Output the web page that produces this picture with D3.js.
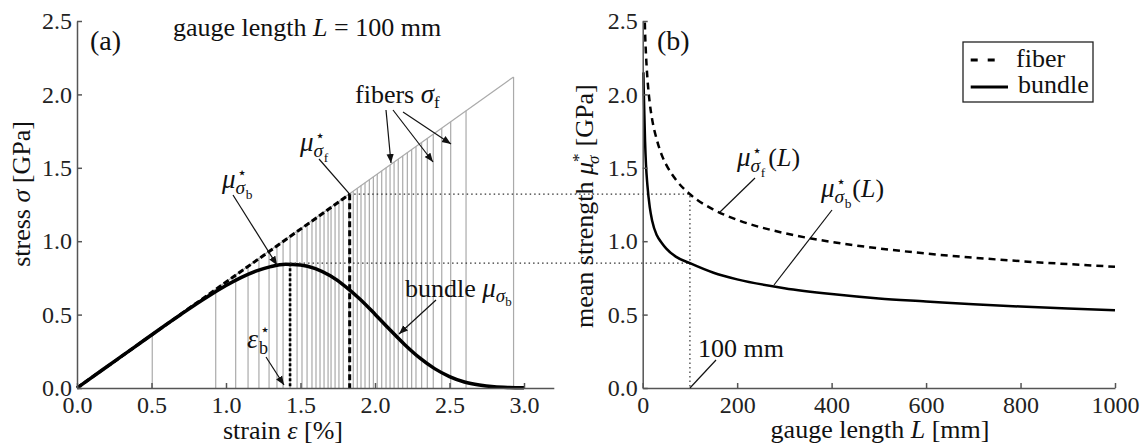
<!DOCTYPE html>
<html>
<head>
<meta charset="utf-8">
<script src="https://cdn.jsdelivr.net/npm/d3@7"></script>
<style>
  body { margin: 0; background: #fff; }
  svg { display: block; }
  svg text { font-family: "Liberation Serif", "Times New Roman", serif; fill: #111; }
  .axis path, .axis line { stroke: #555; stroke-width: 1.5; }
  .fiber { stroke: #aaa; stroke-width: 1.2; }
  .lead { stroke: #111; stroke-width: 1.2; fill: none; }
  .dotted { stroke: #333; stroke-width: 1.2; stroke-dasharray: 1.5,3; fill: none; }
</style>
</head>
<body>
<svg id="chart" width="1146" height="445"></svg>
<script>
// ticks
var strainTicks = [0, 0.5, 1.0, 1.5, 2.0, 2.5, 3.0];
var stressTicks = [0, 0.5, 1.0, 1.5, 2.0, 2.5];
var lengthTicks = [0, 200, 400, 600, 800, 1000];

// panel (a): breaking strains of single fibers [%], slope of the gray envelope [GPa/%]
var fiberStrain = [0.505, 0.931, 1.065, 1.148, 1.221, 1.289, 1.342, 1.383, 1.43, 1.477,
  1.510, 1.544, 1.577, 1.604, 1.631, 1.658, 1.685, 1.705, 1.732, 1.758, 1.787, 1.826,
  1.854, 1.881, 1.906, 1.933, 1.962, 1.989, 2.015, 2.045, 2.074, 2.101, 2.128, 2.156,
  2.186, 2.217, 2.246, 2.275, 2.313, 2.351, 2.391, 2.448, 2.508, 2.611, 2.930];
var fiberModulus = 0.7233;

// panel (a): mean bundle response
var bundleStrain = [0, 0.1, 0.2, 0.3, 0.4, 0.5, 0.6, 0.7, 0.8, 0.9, 1.0, 1.1, 1.2, 1.3,
  1.4, 1.5, 1.6, 1.7, 1.8, 1.9, 2.0, 2.1, 2.2, 2.3, 2.4, 2.5, 2.6, 2.7, 2.8, 2.9, 3.0];
var bundleStress = [0, 0.072, 0.145, 0.217, 0.289, 0.361, 0.433, 0.503, 0.572, 0.637,
  0.698, 0.752, 0.796, 0.827, 0.843, 0.838, 0.813, 0.764, 0.693, 0.605, 0.503, 0.397,
  0.295, 0.205, 0.132, 0.078, 0.041, 0.020, 0.008, 0.003, 0.001];

var peakStrain = 1.43, peakStress = 0.85;     // bundle maximum
var fiberMeanStrain = 1.83, fiberMeanStress = 1.32;

// panel (b): mean strength vs gauge length
var fiberL = [4.5, 5, 7, 10, 15, 20, 30, 40, 50, 70, 100, 150, 200, 300, 400, 500, 600, 700, 800, 900, 1000];
var fiberMean = [2.49, 2.43, 2.27, 2.11, 1.94, 1.83, 1.69, 1.59, 1.52, 1.42, 1.32, 1.215, 1.146,
  1.055, 0.995, 0.951, 0.916, 0.888, 0.864, 0.844, 0.826];
var bundleL = [1.5, 2, 3, 5, 7, 10, 15, 20, 30, 40, 50, 70, 100, 150, 200, 300, 400, 500, 600, 700, 800, 900, 1000];
var bundleMean = [2.15, 2.06, 1.93, 1.68, 1.52, 1.38, 1.23, 1.14, 1.04, 0.99, 0.95, 0.895, 0.85,
  0.785, 0.74, 0.68, 0.64, 0.61, 0.59, 0.57, 0.555, 0.542, 0.53];
var refLength = 100;

var SERIF = "'Liberation Serif', 'Times New Roman', serif";
var svg = d3.select("#chart");

var xA = d3.scaleLinear().domain([0, 3.2]).range([77, 553.8]);
var yS = d3.scaleLinear().domain([0, 2.5]).range([388, 21]);
var xB = d3.scaleLinear().domain([0, 1000]).range([642.7, 1115]);

// arrowhead
svg.append("defs").append("marker")
  .attr("id", "arr")
  .attr("viewBox", "0 0 10 10")
  .attr("refX", 10).attr("refY", 5)
  .attr("markerWidth", 9).attr("markerHeight", 9)
  .attr("markerUnits", "userSpaceOnUse")
  .attr("orient", "auto")
  .append("path").attr("d", "M0,1 L10,5 L0,9 Z").attr("fill", "#111");

// ---------- panel (a) ----------
var ga = svg.append("g");

ga.selectAll(".fiber").data(fiberStrain).enter().append("line")
  .attr("class", "fiber")
  .attr("x1", d => xA(d)).attr("x2", d => xA(d))
  .attr("y1", yS(0)).attr("y2", d => yS(d * fiberModulus));

var lastFiber = d3.max(fiberStrain);
ga.append("line").attr("class", "fiber")
  .attr("x1", xA(0)).attr("y1", yS(0))
  .attr("x2", xA(lastFiber)).attr("y2", yS(lastFiber * fiberModulus));

// dotted guides spanning both panels
svg.append("path").attr("class", "dotted")
  .attr("d", "M" + xA(fiberMeanStrain) + "," + yS(fiberMeanStress) + "H" + xB(refLength) + "V" + yS(0));
svg.append("path").attr("class", "dotted")
  .attr("d", "M" + xA(peakStrain) + "," + yS(peakStress) + "H" + xB(refLength));

// mean fiber strength construction
ga.append("line")
  .attr("x1", xA(0)).attr("y1", yS(0))
  .attr("x2", xA(fiberMeanStrain)).attr("y2", yS(fiberMeanStress))
  .attr("stroke", "#000").attr("stroke-width", 3).attr("stroke-dasharray", "6,3");
ga.append("line")
  .attr("x1", xA(fiberMeanStrain)).attr("y1", yS(fiberMeanStress))
  .attr("x2", xA(fiberMeanStrain)).attr("y2", yS(0))
  .attr("stroke", "#000").attr("stroke-width", 3).attr("stroke-dasharray", "6,3");
ga.append("line")
  .attr("x1", xA(peakStrain)).attr("y1", yS(peakStress))
  .attr("x2", xA(peakStrain)).attr("y2", yS(0))
  .attr("stroke", "#000").attr("stroke-width", 2.6).attr("stroke-dasharray", "3,2");

var lineA = d3.line().x(d => xA(d[0])).y(d => yS(d[1])).curve(d3.curveMonotoneX);
ga.append("path")
  .attr("d", lineA(bundleStrain.map((e, i) => [e, bundleStress[i]])))
  .attr("fill", "none").attr("stroke", "#000").attr("stroke-width", 3.5);

function styleAxis(g) {
  g.attr("font-family", null).attr("font-size", null);
  g.selectAll("text")
    .style("font-family", SERIF)
    .style("font-size", "24px")
    .style("fill", "#222");
}
ga.append("g").attr("class", "axis")
  .attr("transform", "translate(0," + yS(0) + ")")
  .call(d3.axisBottom(xA).tickValues(strainTicks).tickFormat(d3.format(".1f"))
    .tickSizeInner(-5).tickSizeOuter(0).tickPadding(8))
  .call(styleAxis);
ga.append("g").attr("class", "axis")
  .attr("transform", "translate(" + xA(0) + ",0)")
  .call(d3.axisLeft(yS).tickValues(stressTicks).tickFormat(d3.format(".1f"))
    .tickSizeInner(-5).tickSizeOuter(0).tickPadding(5))
  .call(styleAxis);

// ---------- panel (b) ----------
var gb = svg.append("g");
var lineB = d3.line().x(d => xB(d[0])).y(d => yS(d[1])).curve(d3.curveMonotoneX);
gb.append("path")
  .attr("d", lineB(fiberL.map((l, i) => [l, fiberMean[i]])))
  .attr("fill", "none").attr("stroke", "#000").attr("stroke-width", 2.5)
  .attr("stroke-dasharray", "7,5");
gb.append("path")
  .attr("d", lineB(bundleL.map((l, i) => [l, bundleMean[i]])))
  .attr("fill", "none").attr("stroke", "#000").attr("stroke-width", 2.5);

gb.append("g").attr("class", "axis")
  .attr("transform", "translate(0," + yS(0) + ")")
  .call(d3.axisBottom(xB).tickValues(lengthTicks).tickFormat(d3.format("d"))
    .tickSizeInner(-5).tickSizeOuter(0).tickPadding(8))
  .call(styleAxis);
gb.append("g").attr("class", "axis")
  .attr("transform", "translate(" + xB(0) + ",0)")
  .call(d3.axisLeft(yS).tickValues(stressTicks).tickFormat(d3.format(".1f"))
    .tickSizeInner(-5).tickSizeOuter(0).tickPadding(5))
  .call(styleAxis);

// ---------- text helpers ----------
// parts: {t, i: italic, x: absolute offset (optional), dy: baseline offset, s: size, f: font}
function rich(x, y, parts, anchor, rot) {
  var t = svg.append("text").attr("text-anchor", anchor || "start")
    .style("font-family", SERIF);
  var ox = rot ? 0 : x, oy = rot ? 0 : y;
  if (rot) t.attr("transform", "translate(" + x + "," + y + ") rotate(-90)");
  t.attr("x", ox).attr("y", oy);
  var cur = 0;
  parts.forEach(function (p) {
    var off = p.dy || 0;
    var s = t.append("tspan")
      .attr("font-style", p.i ? "italic" : "normal")
      .attr("font-size", p.s).text(p.t);
    if (off !== cur) s.attr("dy", off - cur);
    cur = off;
    if (p.x != null) s.attr("x", ox + p.x);
    if (p.f) s.style("font-family", p.f);
  });
  return t;
}
// mu with star superscript and stacked subscript sigma_x, optional tail like "(L)"
function muStar(x, y, size, sub, tail) {
  var parts = [
    { t: "\u03bc", i: 1, s: size },
    { t: "\u22c6", x: size * 0.56, dy: -size * 0.38, s: size * 0.6, f: "DejaVu Sans" },
    { t: "\u03c3", i: 1, x: size * 0.5, dy: size * 0.24, s: size * 0.72 },
    { t: sub, x: size * 0.88, dy: size * 0.42, s: size * 0.5 }
  ];
  if (tail) {
    parts.push({ t: "(", x: size * 1.16, s: size * 0.96 });
    parts.push({ t: "L", i: 1, s: size * 0.96 });
    parts.push({ t: ")", s: size * 0.96 });
  }
  return rich(x, y, parts);
}
function lead(x1, y1, x2, y2, arrow) {
  var l = svg.append("line").attr("class", "lead")
    .attr("x1", x1).attr("y1", y1).attr("x2", x2).attr("y2", y2);
  if (arrow) l.attr("marker-end", "url(#arr)");
}

// panel labels
rich(90, 50, [{ t: "(a)", s: 28 }]);
rich(657, 50, [{ t: "(b)", s: 28 }]);
rich(173, 36, [{ t: "gauge length ", s: 26 }, { t: "L", i: 1, s: 26 }, { t: " = 100 mm", s: 26 }]);

// axis titles
rich(283, 439, [{ t: "strain ", s: 26 }, { t: "\u03b5", i: 1, s: 26 }, { t: " [%]", s: 26 }], "middle");
rich(880, 438, [{ t: "gauge length ", s: 26 }, { t: "L", i: 1, s: 26 }, { t: " [mm]", s: 26 }], "middle");
rich(30, 194, [{ t: "stress ", s: 26 }, { t: "\u03c3", i: 1, s: 26 }, { t: " [GPa]", s: 26 }], "middle", true);
rich(593, 328, [
  { t: "mean strength ", s: 26 },
  { t: "\u03bc", i: 1, s: 26 },
  { t: "*", x: 166, dy: -9, s: 17 },
  { t: "\u03c3", i: 1, x: 164, dy: 6, s: 17 },
  { t: " [GPa]", x: 175, s: 26 }
], "start", true);

// panel (a) annotations
muStar(222, 188, 27, "b");
lead(233, 195, xA(peakStrain) - 13, yS(peakStress) + 2, true);
muStar(300, 151, 27, "f");
lead(319, 159, xA(fiberMeanStrain), yS(fiberMeanStress), false);
rich(355, 103, [{ t: "fibers ", s: 26 }, { t: "\u03c3", i: 1, s: 27 }, { t: "f", dy: 5, s: 17 }]);
lead(386, 110, 391, 163, true);
lead(393, 110, 433, 162, true);
lead(403, 112, 451, 144, true);
rich(405, 297, [{ t: "bundle ", s: 26 }, { t: "\u03bc", i: 1, s: 27 },
  { t: "\u03c3", i: 1, dy: 5, s: 19 }, { t: "b", dy: 9, s: 13 }]);
lead(436, 300, 399, 334, true);
rich(247, 348, [{ t: "\u03b5", i: 1, s: 28 },
  { t: "\u22c6", x: 13, dy: -13, s: 16, f: "DejaVu Sans" },
  { t: "b", x: 12, dy: 6, s: 18 }]);
lead(266, 357, 284, 385, true);

// panel (b) annotations
muStar(737, 166, 27, "f", true);
lead(755, 178, 720, 212, false);
muStar(821, 197, 27, "b", true);
lead(832, 210, 774, 285, false);
rich(698, 357, [{ t: "100 mm", s: 26 }]);
lead(716, 360, xB(refLength), yS(0), false);

// legend
svg.append("rect").attr("x", 963).attr("y", 42).attr("width", 130).attr("height", 60)
  .attr("fill", "#fff").attr("stroke", "#222").attr("stroke-width", 1.3);
svg.append("line").attr("x1", 970.7).attr("x2", 996).attr("y1", 60).attr("y2", 60)
  .attr("stroke", "#000").attr("stroke-width", 3).attr("stroke-dasharray", "7,10");
svg.append("line").attr("x1", 970.7).attr("x2", 1008).attr("y1", 87).attr("y2", 87)
  .attr("stroke", "#000").attr("stroke-width", 3);
rich(1016, 67, [{ t: "fiber", s: 26 }]);
rich(1018, 93, [{ t: "bundle", s: 26 }]);
</script>
</body>
</html>
